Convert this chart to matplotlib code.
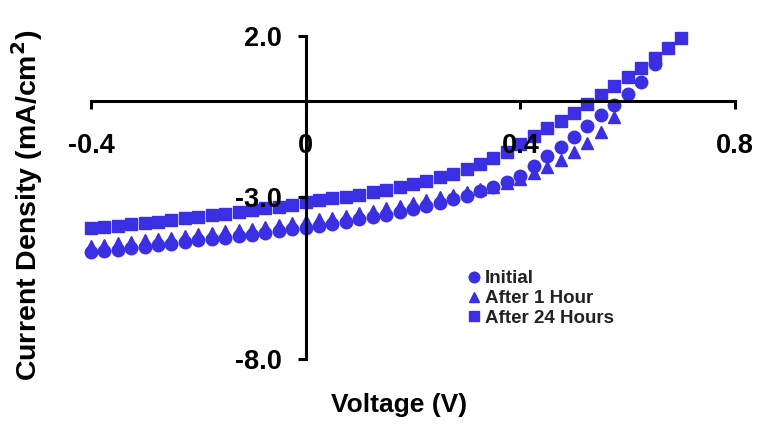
import matplotlib
matplotlib.use("Agg")
import matplotlib.pyplot as plt

plt.rcParams["font.family"] = ["Liberation Sans", "DejaVu Sans"]
plt.rcParams["font.weight"] = "bold"
plt.rcParams["mathtext.default"] = "bf"

# voltage grid (V)
voltage = [-0.400, -0.375, -0.350, -0.325, -0.300, -0.275, -0.250, -0.225,
           -0.200, -0.175, -0.150, -0.125, -0.100, -0.075, -0.050, -0.025,
           0.000, 0.025, 0.050, 0.075, 0.100, 0.125, 0.150, 0.175,
           0.200, 0.225, 0.250, 0.275, 0.300, 0.325, 0.350, 0.375,
           0.400, 0.425, 0.450, 0.475, 0.500, 0.525, 0.550, 0.575,
           0.600, 0.625, 0.650, 0.675, 0.700]

# current density (mA/cm^2)
initial = [-4.70, -4.65, -4.61, -4.56, -4.52, -4.48, -4.43, -4.38,
           -4.32, -4.28, -4.24, -4.20, -4.15, -4.10, -4.05, -3.99,
           -3.93, -3.87, -3.81, -3.75, -3.68, -3.61, -3.53, -3.45,
           -3.36, -3.26, -3.16, -3.06, -2.95, -2.81, -2.67, -2.51,
           -2.33, -2.02, -1.70, -1.43, -1.13, -0.79, -0.46, -0.15,
           0.20, 0.57, 1.12]

after_1h = [-4.50, -4.46, -4.42, -4.37, -4.33, -4.29, -4.24, -4.19,
            -4.14, -4.09, -4.05, -4.01, -3.96, -3.91, -3.86, -3.80,
            -3.74, -3.68, -3.62, -3.56, -3.49, -3.42, -3.34, -3.26,
            -3.18, -3.09, -3.00, -2.91, -2.83, -2.75, -2.66, -2.56,
            -2.44, -2.25, -2.05, -1.85, -1.59, -1.32, -0.97, -0.51]

after_24h = [-3.95, -3.91, -3.87, -3.83, -3.79, -3.75, -3.70, -3.65,
             -3.60, -3.55, -3.50, -3.45, -3.40, -3.34, -3.28, -3.22,
             -3.15, -3.09, -3.03, -2.97, -2.91, -2.84, -2.77, -2.68,
             -2.58, -2.48, -2.38, -2.26, -2.12, -1.96, -1.78, -1.58,
             -1.35, -1.10, -0.86, -0.62, -0.37, -0.11, 0.16, 0.45,
             0.73, 1.02, 1.32, 1.63, 1.95]

labels = ["Initial", "After 1 Hour", "After 24 Hours"]
x_ticks = [-0.4, 0, 0.4, 0.8]
x_tick_labels = ["-0.4", "0", "0.4", "0.8"]
y_ticks = [2.0, -3.0, -8.0]
y_tick_labels = ["2.0", "-3.0", "-8.0"]

blue = "#3b2fe3"
W, H = 761, 447

fig = plt.figure(figsize=(W / 100, H / 100), dpi=100)
ax = fig.add_axes([91 / W, 1 - 359 / H, (735 - 91) / W, (359 - 36) / H])

h_tri, = ax.plot(voltage[:len(after_1h)], after_1h, "^", ms=8.5, color=blue,
                 mec=blue, ls="none", clip_on=False, zorder=3)
h_circ, = ax.plot(voltage[:len(initial)], initial, "o", ms=9, color=blue,
                  mec=blue, ls="none", clip_on=False, zorder=4)
h_sq, = ax.plot(voltage, after_24h, "s", ms=9, color=blue, mec=blue,
                ls="none", clip_on=False, zorder=5)

ax.set_xlim(-0.4, 0.8)
ax.set_ylim(-8.0, 2.0)

for s in ["top", "right"]:
    ax.spines[s].set_visible(False)
for s in ["bottom", "left"]:
    ax.spines[s].set_position(("data", 0))
    ax.spines[s].set_linewidth(2.2)
    ax.spines[s].set_zorder(6)
ax.xaxis.set_zorder(7)
ax.yaxis.set_zorder(7)

ax.set_xticks(x_ticks)
ax.set_xticklabels(x_tick_labels)
ax.set_yticks(y_ticks)
ax.set_yticklabels(y_tick_labels)
ax.tick_params(axis="x", direction="out", length=6, width=2.2, pad=17,
               labelsize=19.5)
ax.tick_params(axis="y", direction="out", length=6, width=2.2, pad=11,
               labelsize=19.5)
for t in ax.get_xticklabels() + ax.get_yticklabels():
    t.set_fontweight("bold")

fig.text(399 / W, 1 - 405 / H, "Voltage (V)", ha="center", va="center",
         fontsize=19, fontweight="bold")
fig.text(27 / W, 1 - 205 / H, r"Current Density (mA/cm$^{2}$)", ha="center",
         va="center", rotation=90, fontsize=20.5, fontweight="bold")

leg = ax.legend([h_circ, h_tri, h_sq], labels, loc="upper left",
                bbox_to_anchor=(467 / W, 1 - 270 / H),
                bbox_transform=fig.transFigure, frameon=False,
                handlelength=0.7, handletextpad=0.25, labelspacing=0.15,
                borderpad=0, borderaxespad=0, markerscale=0.85,
                prop={"size": 13.5, "weight": "bold"})
for t in leg.get_texts():
    t.set_color("#222222")

fig.savefig("out.png", dpi=100)
